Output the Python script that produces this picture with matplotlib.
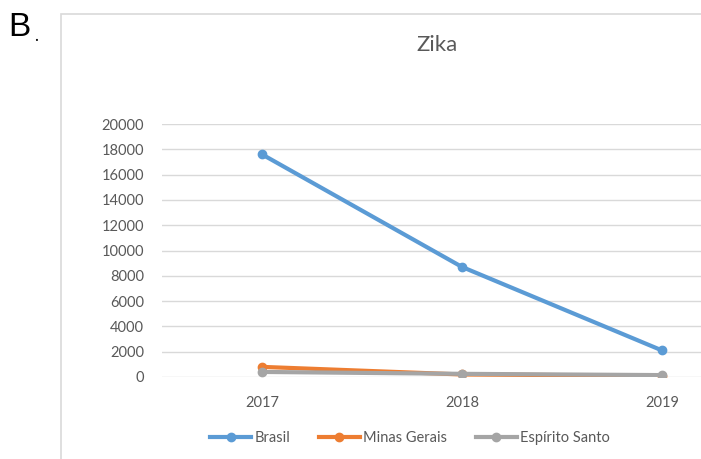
import matplotlib
matplotlib.use("Agg")
import matplotlib.pyplot as plt
from matplotlib.patches import Rectangle

# dados
anos = ["2017", "2018", "2019"]
brasil = [17600, 8700, 2100]
minas_gerais = [800, 200, 100]
espirito_santo = [400, 250, 150]
yticks = list(range(0, 20001, 2000))

plt.rcParams['font.family'] = ['Lato', 'DejaVu Sans']

fig = plt.figure(figsize=(7.01, 4.59), dpi=100)

# moldura do gráfico (estilo Excel)
fig.patches.append(Rectangle((61 / 701, -0.1), 1.0, 1.1 - 14 / 459, transform=fig.transFigure,
                             fill=False, edgecolor="#d9d9d9", linewidth=1.2))

fig.text(8 / 701, 1 - 28 / 459, "B", fontsize=24, color="black", va="center", ha="left",
         family=["Liberation Sans", "DejaVu Sans"])
fig.text(34 / 701, 1 - 36 / 459, ".", fontsize=12, color="black", va="center", ha="left")

ax = fig.add_axes([162 / 701, 1 - 377 / 459, 600 / 701, 253 / 459])
x = range(len(anos))
ax.plot(x, brasil, color="#5b9bd5", lw=3, marker="o", ms=6, label="Brasil", zorder=3)
ax.plot(x, minas_gerais, color="#ed7d31", lw=3, marker="o", ms=6, label="Minas Gerais", zorder=3)
ax.plot(x, espirito_santo, color="#a5a5a5", lw=3, marker="o", ms=6, label="Espírito Santo", zorder=4)

ax.set_xlim(-0.5, 2.5)
ax.set_ylim(0, 20000)
ax.set_yticks(yticks)
ax.set_yticklabels([str(v) for v in yticks])
ax.set_xticks(list(x))
ax.set_xticklabels(anos)
ax.grid(axis="y", color="#d9d9d9", lw=1)
ax.set_axisbelow(True)
for s in ax.spines.values():
    s.set_visible(False)
ax.tick_params(axis="both", length=0, labelsize=10.5, colors="#595959")
ax.tick_params(axis="y", pad=13)
ax.tick_params(axis="x", pad=14)

fig.text(437 / 701, 1 - 45 / 459, "Zika", fontsize=16, color="#595959", ha="center", va="center")

fig.legend(loc="center", bbox_to_anchor=(410 / 701, 21 / 459), ncol=3, frameon=False,
           fontsize=10.5, labelcolor="#595959", handlelength=2.8, handletextpad=0.2,
           columnspacing=2.0, markerscale=1.0)

fig.savefig("out.png", dpi=100)
